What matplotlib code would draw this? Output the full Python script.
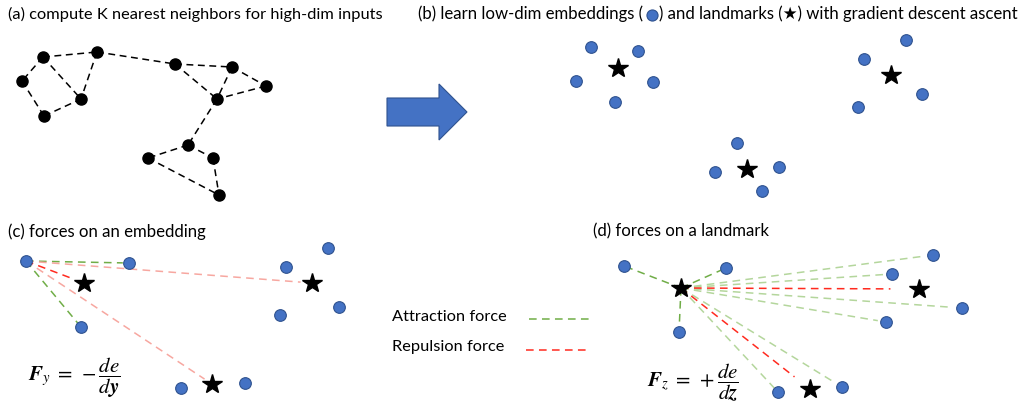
import matplotlib
matplotlib.use("Agg")
import matplotlib.pyplot as plt

plt.rcParams['mathtext.fontset'] = 'stix'

BLUE = '#4472C4'
BLUE_EDGE = '#2F528F'
GREEN = '#70AD47'
LIGHT_GREEN = '#B4D69C'
RED = '#FF2A1F'
LIGHT_RED = '#F7A7A0'
FONT = ['Lato', 'DejaVu Sans']

# (a) kNN graph, pixel coords of the nodes and the edges between them
knn_x = [43, 97, 22, 81, 44, 175, 232, 266, 217, 188, 148, 213, 219]
knn_y = [57, 52, 81, 99, 116, 64, 67, 86, 99, 145, 158, 158, 195]
knn_edges = [(0, 1), (0, 2), (0, 3), (1, 3), (2, 4), (4, 3), (1, 5), (5, 6), (5, 8),
             (6, 8), (6, 7), (7, 8), (8, 9), (9, 10), (9, 11), (11, 12), (10, 12)]

# (b) embeddings and landmarks
emb_b_x = [591, 638, 576, 653, 615, 906, 864, 922, 858, 737, 715, 779, 762]
emb_b_y = [47, 51, 81, 82, 102, 40, 59, 94, 107, 143, 172, 167, 191]
lm_b_x = [618, 891, 747]
lm_b_y = [68, 75, 169]

# (c) forces on an embedding (first embedding is the one the forces act on)
emb_c_x = [26, 129, 81, 328, 286, 339, 280, 181, 245]
emb_c_y = [261, 263, 327, 248, 267, 307, 315, 388, 383]
lm_c_x = [84, 312, 212]
lm_c_y = [283, 283, 384]
c_attract = [1, 2]
c_repulse_near = [0]
c_repulse_far = [1, 2]

# (d) forces on a landmark (first landmark is the one the forces act on)
emb_d_x = [624, 726, 679, 933, 892, 962, 886, 778, 842]
emb_d_y = [266, 268, 332, 255, 274, 308, 322, 392, 387]
lm_d_x = [681, 919, 810]
lm_d_y = [288, 289, 389]
d_attract_near = [0, 1, 2]
d_attract_far = [3, 4, 5, 6, 7, 8]
d_repulse = [1, 2]

titles = ["(a) compute K nearest neighbors for high-dim inputs",
          "(c) forces on an embedding",
          "(d) forces on a landmark"]
title_pos = [(8, 14), (8, 232), (593, 231)]
title_size = [11.8, 12.1, 12.1]
title_b = ["(b) learn low-dim embeddings (", ") and landmarks (\u2605) with gradient descent ascent"]
legend_labels = ["Attraction force", "Repulsion force"]

fig = plt.figure(figsize=(10.24, 4.09), dpi=100)
ax = fig.add_axes([0, 0, 1, 1])
ax.set_xlim(0, 1024)
ax.set_ylim(409, 0)
ax.axis('off')


def dots(xs, ys):
    ax.plot(xs, ys, 'o', ms=8.4, mfc=BLUE, mec=BLUE_EDGE, mew=0.8, ls='none', zorder=5)


def stars(xs, ys):
    ax.plot(xs, ys, '*', ms=14.5, color='black', ls='none', zorder=5)


def dash(x0, y0, x1, y1, color, stop=1.0):
    ax.plot([x0, x0 + (x1 - x0) * stop], [y0, y0 + (y1 - y0) * stop], color=color,
            lw=1.1, ls=(0, (5, 3.5)), zorder=2)


# (a)
for i, j in knn_edges:
    ax.plot([knn_x[i], knn_x[j]], [knn_y[i], knn_y[j]], color='black', lw=1.1,
            ls=(0, (4.5, 3)), zorder=2)
ax.plot(knn_x, knn_y, 'o', ms=8, color='black', ls='none', zorder=5)

# arrow
ax.fill([387, 439, 439, 467, 439, 439, 387], [98, 98, 84, 112, 140, 126, 126],
        color=BLUE, ec=BLUE_EDGE, lw=0.8)

# (b)
dots(emb_b_x, emb_b_y)
stars(lm_b_x, lm_b_y)

# (c)
sx, sy = emb_c_x[0], emb_c_y[0]
for k in c_attract:
    dash(sx, sy, emb_c_x[k], emb_c_y[k], GREEN, 0.94)
for k in c_repulse_far:
    dash(sx, sy, lm_c_x[k], lm_c_y[k], LIGHT_RED, 0.96)
for k in c_repulse_near:
    dash(sx, sy, lm_c_x[k], lm_c_y[k], RED, 0.83)
dots(emb_c_x, emb_c_y)
stars(lm_c_x, lm_c_y)

# (d)
sx, sy = lm_d_x[0], lm_d_y[0]
for k in d_attract_near:
    dash(sx, sy, emb_d_x[k], emb_d_y[k], GREEN, 0.9)
for k in d_attract_far:
    dash(sx, sy, emb_d_x[k], emb_d_y[k], LIGHT_GREEN, 0.96)
for k in d_repulse:
    dash(sx, sy, lm_d_x[k], lm_d_y[k], RED, 0.88)
dots(emb_d_x, emb_d_y)
stars(lm_d_x, lm_d_y)

# legend
ax.text(392, 317, legend_labels[0], fontsize=11.8, family=FONT, va='center')
ax.text(392, 347, legend_labels[1], fontsize=11.8, family=FONT, va='center')
ax.plot([529, 592], [319, 319], color=GREEN, lw=1.1, ls=(0, (5, 3.5)))
ax.plot([526, 588], [350, 350], color=RED, lw=1.1, ls=(0, (5, 3.5)))

# formulas
ax.text(28, 378, r'$\mathbfit{F}_y \;=\; -\dfrac{de}{d\mathbfit{y}}$', fontsize=15, va='center')
ax.text(647, 383, r'$\mathbfit{F}_z \;=\; +\dfrac{de}{d\mathbfit{z}}$', fontsize=15, va='center')

# titles
for s, (x, y), fs in zip(titles, title_pos, title_size):
    ax.text(x, y, s, fontsize=fs, family=FONT, va='center')

t1 = ax.text(418, 14, title_b[0], fontsize=12.1, family=FONT, va='center')
fig.canvas.draw()
bb = t1.get_window_extent()
cx = bb.x1 + 9
ax.plot([cx], [15], 'o', ms=8, mfc=BLUE, mec=BLUE_EDGE, mew=0.8)
ax.text(cx + 7, 14, title_b[1], fontsize=12.1, family=FONT, va='center')

fig.savefig('out.png', dpi=100)
